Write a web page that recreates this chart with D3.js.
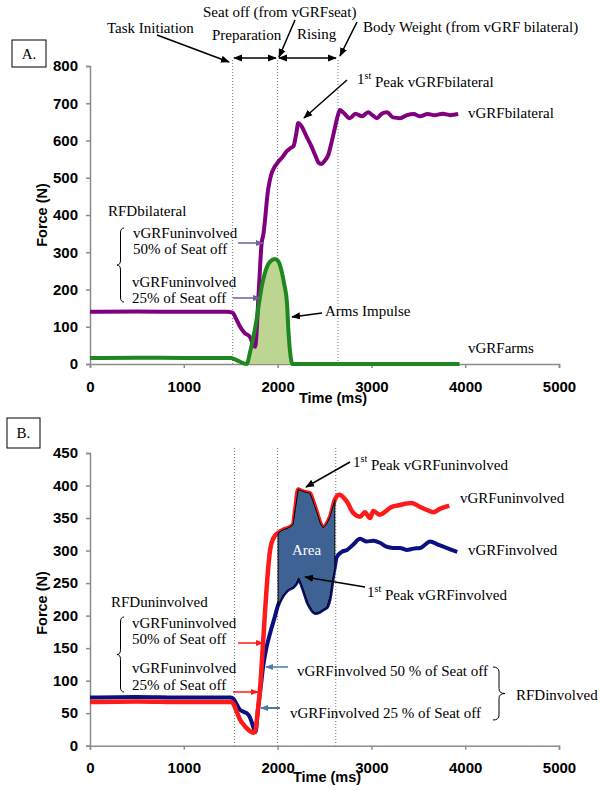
<!DOCTYPE html>
<html><head><meta charset="utf-8">
<script src="https://cdn.jsdelivr.net/npm/d3@7"></script>
<style>body{margin:0;background:#fff}svg{display:block}</style>
</head><body>
<svg id="c" width="601" height="790"></svg>
<script>
// ---------- DATA ----------
const xTicks = [0, 1000, 2000, 3000, 4000, 5000];
const yTicksA = [0, 100, 200, 300, 400, 500, 600, 700, 800];
const yTicksB = [0, 50, 100, 150, 200, 250, 300, 350, 400, 450];

// Panel A: vGRF bilateral (N) vs time (ms)
const bilateralT = [0, 500, 1000, 1450, 1520, 1560, 1600, 1650, 1705, 1740, 1760, 1800, 1830, 1847, 1900, 1930, 1970, 2005, 2060, 2100, 2140, 2170, 2200, 2220, 2250, 2310, 2360, 2400, 2440, 2470, 2500, 2540, 2580, 2610, 2640, 2665, 2700, 2770, 2830, 2900, 2965, 3010, 3060, 3110, 3165, 3230, 3305, 3380, 3450, 3520, 3600, 3680, 3760, 3840, 3925];
const bilateralF = [140, 141, 140, 140, 138, 120, 100, 83, 73, 51, 46, 200, 325, 346, 470, 507, 530, 542, 558, 572, 580, 585, 620, 647, 640, 610, 585, 561, 540, 537, 545, 561, 600, 633, 665, 682, 675, 660, 672, 665, 676, 668, 660, 672, 676, 662, 660, 668, 671, 665, 671, 668, 672, 668, 671];
// Panel A: vGRF arms
const armsT = [0, 500, 1000, 1500, 1550, 1600, 1670, 1705, 1740, 1775, 1800, 1830, 1860, 1885, 1920, 1972, 2010, 2040, 2070, 2100, 2115, 2130, 2145, 2155, 2500, 3000, 3500, 3940];
const armsF = [16, 17, 16, 16, 12, 6, 0, 30, 70, 118, 160, 207, 240, 260, 275, 282, 275, 252, 215, 164, 91, 40, 10, 0, 0, 0, 0, 0];
const impulseStart = 1670, impulseEnd = 2155;
const phaseLinesA = [1521, 2000, 2644];

// Panel B: vGRF uninvolved / involved
const uninvT = [0, 500, 1000, 1500, 1530, 1570, 1600, 1640, 1670, 1710, 1740, 1760, 1790, 1812, 1845, 1870, 1895, 1920, 1955, 2005, 2060, 2100, 2130, 2165, 2190, 2220, 2250, 2290, 2345, 2380, 2420, 2455, 2485, 2520, 2560, 2610, 2640, 2665, 2700, 2740, 2805, 2880, 2930, 2985, 3020, 3090, 3150, 3200, 3305, 3430, 3520, 3600, 3660, 3730, 3830];
const uninvF = [67, 68, 67, 67, 64, 50, 40, 32, 27, 22, 20, 22, 55, 86, 158, 215, 265, 301, 319, 327, 332, 334, 336, 340, 365, 394, 392, 390, 388, 375, 358, 342, 335, 340, 352, 378, 385, 386, 382, 375, 358, 352, 359, 350, 361, 355, 360, 366, 370, 373, 367, 362, 359, 364, 369];
const invT = [0, 500, 1000, 1500, 1530, 1570, 1600, 1640, 1670, 1700, 1720, 1745, 1765, 1790, 1820, 1845, 1880, 1920, 1970, 2005, 2060, 2110, 2165, 2200, 2225, 2250, 2275, 2325, 2370, 2400, 2450, 2490, 2525, 2560, 2580, 2610, 2630, 2685, 2740, 2805, 2880, 2950, 3020, 3090, 3160, 3230, 3305, 3375, 3450, 3520, 3580, 3625, 3710, 3800, 3915];
const invF = [74, 75, 74, 74, 72, 62, 55, 52, 50, 45, 38, 27, 21, 55, 90, 121, 150, 173, 198, 216, 232, 240, 244, 250, 258, 250, 240, 219, 208, 204, 206, 210, 213, 230, 250, 275, 290, 298, 301, 309, 318, 314, 315, 312, 306, 304, 304, 301, 303, 304, 310, 314, 309, 304, 298];
const areaStart = 2005, areaEnd = 2610;
const phaseLinesB = [1540, 2000, 2620];

// ---------- DRAW ----------
const svg = d3.select("#c");
const SERIF = "'Liberation Serif','Times New Roman',serif";
const SANS = "'Liberation Sans',Arial,sans-serif";

const defs = svg.append("defs");
function marker(id, color, size) {
  defs.append("marker").attr("id", id).attr("viewBox", "0 0 10 10")
    .attr("refX", 9).attr("refY", 5).attr("markerUnits", "userSpaceOnUse")
    .attr("markerWidth", size).attr("markerHeight", size).attr("orient", "auto-start-reverse")
    .append("path").attr("d", "M0,1 L10,5 L0,9 Z").attr("fill", color);
}
marker("ak", "#000", 9);
marker("ap", "#6f5f9f", 8);
marker("ar", "#ff1a1a", 8);
marker("ab", "#4a78a8", 8);

function arrow(x1, y1, x2, y2, m, color, w, both) {
  const l = svg.append("line").attr("x1", x1).attr("y1", y1).attr("x2", x2).attr("y2", y2)
    .attr("stroke", color).attr("stroke-width", w).attr("marker-end", `url(#${m})`);
  if (both) l.attr("marker-start", `url(#${m})`);
}
function label(txt, x, y, opt = {}) {
  const t = svg.append("text").attr("x", x).attr("y", y).attr("dy", "0.35em")
    .attr("font-family", SERIF).attr("font-size", opt.size || 15)
    .attr("fill", opt.fill || "#000").attr("text-anchor", opt.anchor || "start");
  t.text(txt);
  return t;
}
function peakLabel(rest, x, y) {
  const t = svg.append("text").attr("x", x).attr("y", y).attr("dy", "0.35em")
    .attr("font-family", SERIF).attr("font-size", 15);
  t.append("tspan").text("1");
  t.append("tspan").text("st").attr("font-size", 10).attr("dy", "-0.5em");
  t.append("tspan").text(" " + rest).attr("dy", "0.5em");
}
function brace(x, y1, y2, w, dir) {
  const ym = (y1 + y2) / 2, r = 5;
  const xe = x, xm = x + dir * w / 2, xc = x + dir * w;
  const d = `M${xe},${y1} Q${xm},${y1} ${xm},${y1 + r} L${xm},${ym - r} Q${xm},${ym} ${xc},${ym} Q${xm},${ym} ${xm},${ym + r} L${xm},${y2 - r} Q${xm},${y2} ${xe},${y2}`;
  svg.append("path").attr("d", d).attr("fill", "none").attr("stroke", "#000").attr("stroke-width", 1);
}

function axes(x, y, yTicks, yLabelY, timeX, timeY) {
  const g = svg.append("g");
  const ax = g.append("g").attr("transform", `translate(0,${y(0)})`)
    .call(d3.axisBottom(x).tickValues(xTicks).tickSize(4).tickPadding(10).tickFormat(d3.format("d")));
  const ay = g.append("g").attr("transform", `translate(${x(0)},0)`)
    .call(d3.axisLeft(y).tickValues(yTicks).tickSize(4).tickPadding(8).tickFormat(d3.format("d")));
  [ax, ay].forEach(a => {
    a.selectAll("path.domain").attr("stroke", "#8c8c8c").attr("stroke-width", 1.5);
    a.selectAll(".tick line").attr("stroke", "#8c8c8c").attr("stroke-width", 1.5);
    a.selectAll("text").attr("font-family", SANS).attr("font-weight", "bold").attr("font-size", 15).attr("fill", "#000");
  });
  ax.selectAll("text").attr("dy", "0.9em");
  svg.append("text").attr("transform", `translate(42,${yLabelY}) rotate(-90)`).attr("text-anchor", "middle")
    .attr("dy", "0.35em").attr("font-family", SANS).attr("font-weight", "bold").attr("font-size", 14.5).text("Force (N)");
  svg.append("text").attr("x", timeX).attr("y", timeY).attr("dy", "0.35em").attr("text-anchor", "middle")
    .attr("font-family", SANS).attr("font-weight", "bold").attr("font-size", 14.5).text("Time (ms)");
}
function phaseLines(x, vals, yTop, yBot) {
  svg.append("g").selectAll("line").data(vals).join("line")
    .attr("x1", d => x(d)).attr("x2", d => x(d)).attr("y1", yTop).attr("y2", yBot)
    .attr("stroke", "#777").attr("stroke-width", 1).attr("stroke-dasharray", "1,2");
}
function panelBox(txt, x, y, w, h) {
  svg.append("rect").attr("x", x).attr("y", y).attr("width", w).attr("height", h)
    .attr("fill", "#fff").attr("stroke", "#000").attr("stroke-width", 1);
  label(txt, x + w / 2, y + h / 2, { anchor: "middle" });
}
const zip = (T, F) => T.map((t, i) => [t, F[i]]);

// ===== Panel A =====
const xA = d3.scaleLinear().domain([0, 5000]).range([90, 559]);
const yA = d3.scaleLinear().domain([0, 800]).range([364, 66]);
panelBox("A.", 12, 40, 34, 27);
phaseLines(xA, phaseLinesA, 60, yA(0));
axes(xA, yA, yTicksA, 215, 333, 398);

const armsPts = zip(armsT, armsF);
const bilPts = zip(bilateralT, bilateralF);
const lineA = d3.line().x(d => xA(d[0])).y(d => yA(d[1])).curve(d3.curveMonotoneX);
const areaA = d3.area().x(d => xA(d[0])).y0(yA(0)).y1(d => yA(d[1])).curve(d3.curveMonotoneX);
svg.append("path").attr("d", areaA(armsPts.filter(d => d[0] >= impulseStart && d[0] <= impulseEnd)))
  .attr("fill", "#bcd590");
svg.append("path").attr("d", lineA(bilPts)).attr("fill", "none").attr("stroke", "#800080").attr("stroke-width", 4).attr("stroke-linejoin", "round");
svg.append("path").attr("d", lineA(armsPts)).attr("fill", "none").attr("stroke", "#1f871f").attr("stroke-width", 4).attr("stroke-linejoin", "round");

// top annotations
label("Seat off (from vGRFseat)", 203, 12);
label("Task Initiation", 107, 28);
label("Preparation", 212, 35);
label("Rising", 297, 34);
label("Body Weight (from vGRF bilateral)", 363, 27);
arrow(157, 35, 229, 62, "ak", "#000", 1.5);
arrow(295, 20, 279, 57, "ak", "#000", 1.5);
arrow(357, 22, 340, 56, "ak", "#000", 1.5);
arrow(234, 58, 276, 58, "ak", "#000", 1.5, true);
arrow(279, 58, 336, 58, "ak", "#000", 1.5, true);

peakLabel("Peak vGRFbilateral", 357, 79);
arrow(347, 80, 304, 118, "ak", "#000", 1.5);
label("vGRFbilateral", 468, 113);
label("RFDbilateral", 108, 211);
label("vGRFuninvolved", 133, 233);
label("50% of Seat off", 133, 249);
label("vGRFuninvolved", 132, 282);
label("25% of Seat off", 132, 298);
brace(124, 228, 302, 7, -1);
arrow(238, 243, 263, 243, "ap", "#6f5f9f", 1.5);
arrow(233, 298, 260, 298, "ap", "#6f5f9f", 1.5);
label("Arms Impulse", 325, 311);
arrow(322, 313, 292, 317, "ak", "#000", 1.5);
label("vGRFarms", 468, 348);

// ===== Panel B =====
const xB = d3.scaleLinear().domain([0, 5000]).range([90, 559]);
const yB = d3.scaleLinear().domain([0, 450]).range([745.7, 453]);
panelBox("B.", 7, 418, 33, 30);
phaseLines(xB, phaseLinesB, 448, yB(0));
axes(xB, yB, yTicksB, 603, 327, 777);

const uninvPts = zip(uninvT, uninvF);
const invPts = zip(invT, invF);
const lineB = d3.line().x(d => xB(d[0])).y(d => yB(d[1])).curve(d3.curveMonotoneX);
svg.append("path").attr("d", lineB(invPts)).attr("fill", "none").attr("stroke", "#0a1080").attr("stroke-width", 4).attr("stroke-linejoin", "round");
svg.append("path").attr("d", lineB(uninvPts)).attr("fill", "none").attr("stroke", "#ff1a1a").attr("stroke-width", 4.5).attr("stroke-linejoin", "round");
const areaTop = uninvPts.filter(d => d[0] >= areaStart && d[0] <= areaEnd);
const areaBot = invPts.filter(d => d[0] >= areaStart && d[0] <= areaEnd).reverse();
const lineBlin = d3.line().x(d => xB(d[0])).y(d => yB(d[1]));
svg.append("path").attr("d", lineBlin(areaTop.concat(areaBot)) + "Z")
  .attr("fill", "#3d6293").attr("stroke", "#000").attr("stroke-width", 1);
label("Area", 292, 550, { fill: "#fff" });

peakLabel("Peak vGRFuninvolved", 353, 462);
arrow(350, 462, 306, 487, "ak", "#000", 1.5);
label("vGRFuninvolved", 460, 498);
label("vGRFinvolved", 468, 550);
peakLabel("Peak vGRFinvolved", 367, 592);
arrow(365, 587, 305, 577, "ak", "#000", 1.5);

label("RFDuninvolved", 111, 602);
label("vGRFuninvolved", 132, 623);
label("50% of Seat off", 132, 639);
label("vGRFuninvolved", 132, 668);
label("25% of Seat off", 132, 685);
brace(124, 617, 692, 7, -1);
arrow(238, 643, 263, 643, "ar", "#ff1a1a", 1.5);
arrow(233, 692, 258, 692, "ar", "#ff1a1a", 1.5);
arrow(288, 667, 266, 667, "ab", "#4a78a8", 1.5);
arrow(280, 708, 261, 708, "ab", "#4a78a8", 2);
label("vGRFinvolved 50 % of Seat off", 297, 671);
label("vGRFinvolved 25 % of Seat off", 290, 713);
brace(493, 667, 720, 12, 1);
label("RFDinvolved", 516, 695);
</script>
</body></html>
